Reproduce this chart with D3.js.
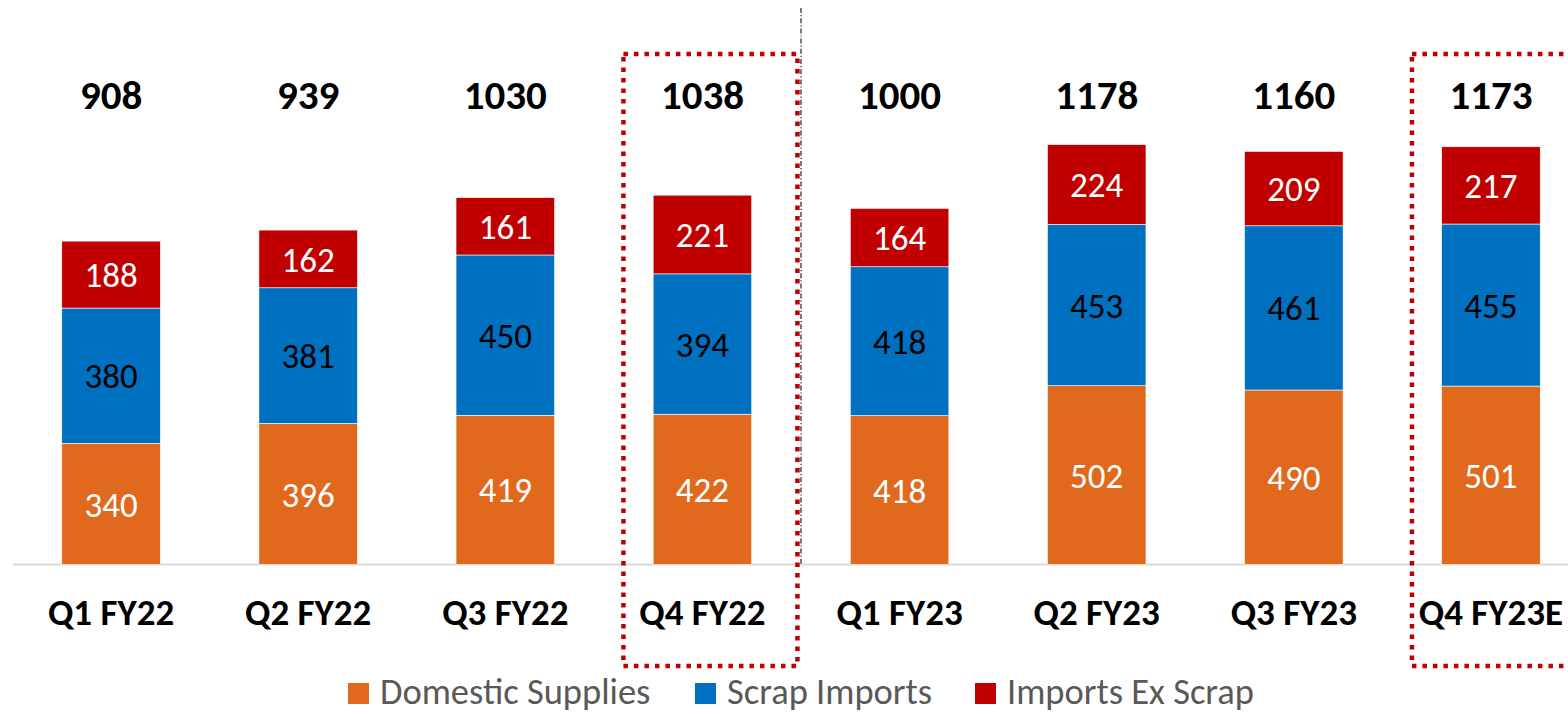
<!DOCTYPE html>
<html>
<head>
<meta charset="utf-8">
<script src="https://cdn.jsdelivr.net/npm/d3@7"></script>
<style>
  body { margin: 0; background: #fff; }
  svg { display: block; font-family: Carlito, Calibri, Lato, sans-serif; }
</style>
</head>
<body>
<script>
var categories = ["Q1 FY22", "Q2 FY22", "Q3 FY22", "Q4 FY22", "Q1 FY23", "Q2 FY23", "Q3 FY23", "Q4 FY23E"];
var domestic = [340, 396, 419, 422, 418, 502, 490, 501];
var scrapImports = [380, 381, 450, 394, 418, 453, 461, 455];
var importsExScrap = [188, 162, 161, 221, 164, 224, 209, 217];
var totals = [908, 939, 1030, 1038, 1000, 1178, 1160, 1173];
var seriesNames = ["Domestic Supplies", "Scrap Imports", "Imports Ex Scrap"];
var highlighted = ["Q4 FY22", "Q4 FY23E"];

var width = 1568, height = 714;
var colors = ["#E0691E", "#0070C0", "#C00000"];
var labelColors = ["#fff", "#000", "#fff"];

var svg = d3.select("body").append("svg").attr("width", width).attr("height", height);

var rows = categories.map(function (c, i) {
  return { cat: c, d0: domestic[i], d1: scrapImports[i], d2: importsExScrap[i], total: totals[i] };
});
var stack = d3.stack().keys(["d0", "d1", "d2"]);
var layers = stack(rows);

var x = d3.scaleBand().domain(categories).range([12.5, 1589.5]).paddingInner(0.5).paddingOuter(0.25);
var y = d3.scaleLinear().domain([0, 1585]).range([564.5, 0]);

// baseline
svg.append("line")
  .attr("x1", 13).attr("x2", width)
  .attr("y1", y(0)).attr("y2", y(0))
  .style("stroke", "#d9d9d9").style("stroke-width", 2);

// bars
var layerG = svg.selectAll("g.layer").data(layers).enter().append("g")
  .attr("class", "layer")
  .style("fill", function (d, i) { return colors[i]; });

layerG.selectAll("rect").data(function (d) { return d; }).enter().append("rect")
  .attr("x", function (d) { return x(d.data.cat); })
  .attr("width", x.bandwidth())
  .attr("y", function (d) { return y(d[1]); })
  .attr("height", function (d) { return y(d[0]) - y(d[1]); })
  .style("stroke", "#fff").style("stroke-width", 0.6);

layerG.each(function (layer, li) {
  d3.select(this).selectAll("text").data(layer).enter().append("text")
    .attr("x", function (d) { return x(d.data.cat) + x.bandwidth() / 2; })
    .attr("y", function (d) { return (y(d[0]) + y(d[1])) / 2; })
    .attr("dy", "0.36em")
    .attr("text-anchor", "middle")
    .style("font-size", "35px")
    .style("fill", labelColors[li])
    .text(function (d) { return d[1] - d[0]; });
});

// totals
svg.selectAll("text.total").data(rows).enter().append("text")
  .attr("class", "total")
  .attr("x", function (d) { return x(d.cat) + x.bandwidth() / 2; })
  .attr("y", 94)
  .attr("dy", "0.36em")
  .attr("text-anchor", "middle")
  .style("font-size", "41px").style("font-weight", "bold")
  .text(function (d) { return d.total; });

// category labels
var xAxis = svg.append("g")
  .attr("transform", "translate(0," + y(0) + ")")
  .call(d3.axisBottom(x).tickSize(0).tickPadding(0));
xAxis.select(".domain").remove();
xAxis.selectAll("text")
  .attr("y", 47).attr("dy", "0.36em")
  .style("font-family", "Carlito, Calibri, Lato, sans-serif")
  .style("font-size", "37px").style("font-weight", "bold").style("fill", "#000");

// separator between FY22 and FY23
var sepX = (x("Q4 FY22") + x.bandwidth() + x("Q1 FY23")) / 2;
svg.append("line")
  .attr("x1", sepX).attr("x2", sepX)
  .attr("y1", 8).attr("y2", y(0))
  .style("stroke", "#222").style("stroke-width", 1.2)
  .style("stroke-dasharray", "5,2,1.2,2");

// dotted highlight boxes
highlighted.forEach(function (c) {
  var cx = x(c) + x.bandwidth() / 2;
  svg.append("rect")
    .attr("x", cx - 79).attr("y", 54)
    .attr("width", 174).attr("height", 612)
    .style("fill", "none")
    .style("stroke", "#C00000").style("stroke-width", 4.5)
    .style("stroke-dasharray", "4.5,6");
});

// legend
var legendX = [348, 695, 975];
var legend = svg.selectAll("g.legend").data(seriesNames).enter().append("g")
  .attr("class", "legend")
  .attr("transform", function (d, i) { return "translate(" + legendX[i] + ",683)"; });
legend.append("rect").attr("width", 21).attr("height", 21)
  .style("fill", function (d, i) { return colors[i]; });
legend.append("text").attr("x", 32).attr("y", 21)
  .style("font-size", "36.5px").style("fill", "#595959")
  .text(function (d) { return d; });
</script>
</body>
</html>
